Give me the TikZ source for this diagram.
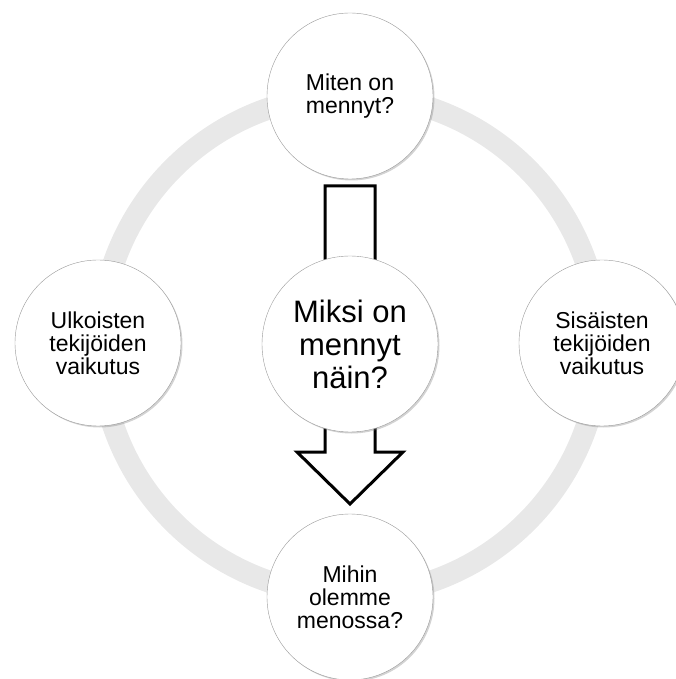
\documentclass[tikz,border=0pt]{standalone}
\usepackage{fontspec}
\setmainfont{Liberation Sans}
\usetikzlibrary{shadows}
\definecolor{ringgray}{RGB}{232,232,232}

\begin{document}
\begin{tikzpicture}[
  x=1pt, y=1pt,
  bubble/.style={circle, draw=gray!80, fill=white, minimum size=166pt, inner sep=0pt,
                 align=center, font=\fontsize{23}{23}\selectfont,
                 drop shadow={shadow xshift=1.5pt, shadow yshift=-1.5pt, opacity=0.35}},
  bigbubble/.style={bubble, minimum size=176pt, font=\fontsize{31}{33}\selectfont},
  blockarrow/.style={draw=black, line width=3pt, fill=white, line join=miter}
]
\useasboundingbox (-350,-334) rectangle (325,345);
% ring behind the bubbles
\draw[ringgray, line width=22pt] (0,0) circle (250);
% hollow arrow from top to bottom
\draw[blockarrow] (-25,159) -- (25,159) -- (25,-107) -- (53,-107) -- (0,-159)
  -- (-53,-107) -- (-25,-107) -- cycle;
\node[bubble] (past) at (0,249) {Miten on\\mennyt?};
\node[bubble] (outer) at (-252,2) {Ulkoisten\\tekijöiden\\vaikutus};
\node[bubble] (inner) at (252,2) {Sisäisten\\tekijöiden\\vaikutus};
\node[bubble] (future) at (0,-252) {Mihin\\olemme\\menossa?};
\node[bigbubble] (why) at (0,1) {Miksi on\\mennyt\\näin?};
\end{tikzpicture}
\end{document}
